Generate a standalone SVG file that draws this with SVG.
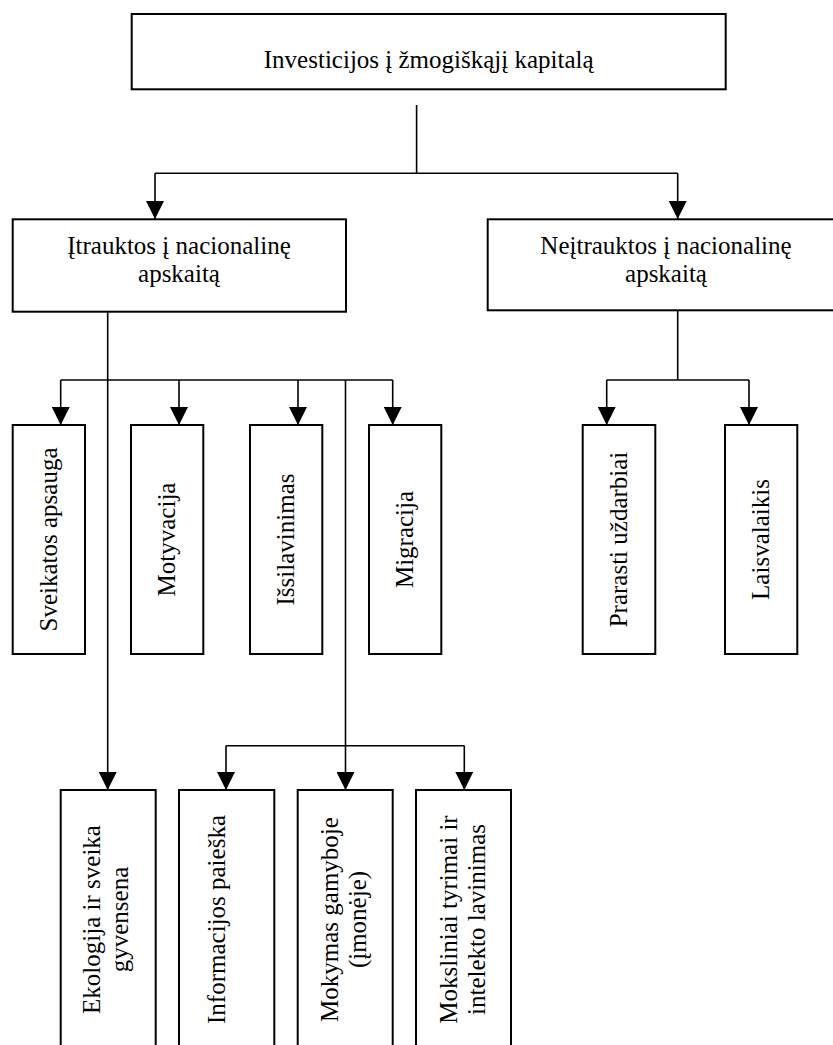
<svg xmlns="http://www.w3.org/2000/svg" width="833" height="1045" viewBox="0 0 833 1045">
<style>
.box{fill:#fff;stroke:#000;stroke-width:2}
.t{font-family:"Liberation Serif","Times New Roman",serif;font-size:25px;fill:#000;text-anchor:middle}
.c{fill:none;stroke:#000;stroke-width:1.6}
.a{marker-end:url(#arr)}
</style>
<defs>
<marker id="arr" markerUnits="userSpaceOnUse" markerWidth="18" markerHeight="18" refX="18" refY="9" orient="auto" viewBox="0 0 18 18">
<path d="M0,0 L18,9 L0,18 Z" fill="#000"/>
</marker>
</defs>
<rect width="833" height="1045" fill="#fff"/>
<g id="connectors">
<path class="c" d="M416.6,105 V173.3"/>
<path class="c" d="M155,173.3 H677.7"/>
<path class="c a" d="M155,173.3 V219"/>
<path class="c a" d="M677.7,173.3 V219"/>
<path class="c a" d="M107.7,311.7 V790"/>
<path class="c" d="M60.7,380 H392.7"/>
<path class="c a" d="M60.7,380 V425"/>
<path class="c a" d="M179,380 V425"/>
<path class="c a" d="M298,380 V425"/>
<path class="c a" d="M392.7,380 V425"/>
<path class="c a" d="M345.5,380 V790"/>
<path class="c" d="M226,745.7 H464.3"/>
<path class="c a" d="M226,745.7 V790"/>
<path class="c a" d="M464.3,745.7 V790"/>
<path class="c" d="M677.7,310 V380"/>
<path class="c" d="M606.7,380 H749"/>
<path class="c a" d="M606.7,380 V425"/>
<path class="c a" d="M749,380 V425"/>
</g>
<g id="n-root"><rect class="box" x="131.7" y="14" width="594" height="75.3"/><text class="t" x="428.7" y="68">Investicijos į žmogiškąjį kapitalą</text></g>
<g id="n-itrauktos"><rect class="box" x="12.7" y="219.3" width="333.3" height="92.4"/><text class="t" x="179" y="254">Įtrauktos į nacionalinę</text><text class="t" x="179" y="282">apskaitą</text></g>
<g id="n-neitrauktos"><rect class="box" x="487.7" y="219.3" width="358" height="91"/><text class="t" x="666" y="254">Neįtrauktos į nacionalinę</text><text class="t" x="666" y="282">apskaitą</text></g>
<g id="n-sveikatos"><rect class="box" x="12.7" y="425" width="72.3" height="229"/><text class="t" transform="translate(56.7,539.5) rotate(-90)">Sveikatos apsauga</text></g>
<g id="n-motyvacija"><rect class="box" x="131" y="425" width="72.3" height="229"/><text class="t" transform="translate(175,539.5) rotate(-90)">Motyvacija</text></g>
<g id="n-issilavinimas"><rect class="box" x="250" y="425" width="72.3" height="229"/><text class="t" transform="translate(294,539.5) rotate(-90)">Išsilavinimas</text></g>
<g id="n-migracija"><rect class="box" x="369" y="425" width="72.3" height="229"/><text class="t" transform="translate(413,539.5) rotate(-90)">Migracija</text></g>
<g id="n-prarasti"><rect class="box" x="582.7" y="425" width="72.6" height="229"/><text class="t" transform="translate(627,539.5) rotate(-90)">Prarasti uždarbiai</text></g>
<g id="n-laisvalaikis"><rect class="box" x="725" y="425" width="72.3" height="229"/><text class="t" transform="translate(769,539.5) rotate(-90)">Laisvalaikis</text></g>
<g id="n-ekologija"><rect class="box" x="60.7" y="790" width="95" height="270"/><text class="t" transform="translate(100,919.5) rotate(-90)">Ekologija ir sveika</text><text class="t" transform="translate(128,919.5) rotate(-90)">gyvensena</text></g>
<g id="n-informacijos"><rect class="box" x="179" y="790" width="95.3" height="270"/><text class="t" transform="translate(225,919.5) rotate(-90)">Informacijos paieška</text></g>
<g id="n-mokymas"><rect class="box" x="297.7" y="790" width="95" height="270"/><text class="t" transform="translate(338.3,919.5) rotate(-90)">Mokymas gamyboje</text><text class="t" transform="translate(366,919.5) rotate(-90)">(įmonėje)</text></g>
<g id="n-moksliniai"><rect class="box" x="416" y="790" width="95" height="270"/><text class="t" transform="translate(456.7,919.5) rotate(-90)">Moksliniai tyrimai ir</text><text class="t" transform="translate(485,919.5) rotate(-90)">intelekto lavinimas</text></g>
</svg>
